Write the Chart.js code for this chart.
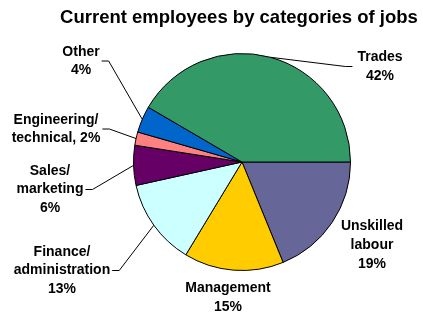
<!DOCTYPE html>
<html>
<head>
<meta charset="utf-8">
<script src="https://cdn.jsdelivr.net/npm/chart.js@4"></script>
<style>
  html, body { margin: 0; padding: 0; background: #fff; }
  #wrap { width: 423px; height: 315px; }
</style>
</head>
<body>
<div id="wrap"><canvas id="myChart" width="423" height="315"></canvas></div>
<script>
// slices go clockwise from 3 o'clock
var categories = ['Unskilled\nlabour', 'Management', 'Finance/\nadministration', 'Sales/\nmarketing', 'Engineering/\ntechnical', 'Other', 'Trades'];
var shares = [19, 15, 13, 6, 2, 4, 42];
var colours = ['#666699', '#FFCC00', '#CCFFFF', '#660066', '#FF8080', '#0066CC', '#339966'];
var chartTitle = 'Current employees by categories of jobs';

// where each label block sits (centre of the text) and whether it gets a leader line
var labelSpots = [
    { x: 372, y: 245, leader: false },
    { x: 228, y: 297.5, leader: false },
    { x: 62, y: 270.5, leader: true },
    { x: 50, y: 189.5, leader: true },
    { x: 56, y: 129, leader: true, inline: true },
    { x: 81, y: 61, leader: true },
    { x: 380, y: 66.5, leader: true }
];

const labelFont = 'bold 14px "Liberation Sans", Arial, sans-serif';
const lineH = 18.7;

const pieLabels = {
    id: 'pieLabels',
    afterDatasetsDraw(chart) {
        const ctx = chart.ctx;
        const arcs = chart.getDatasetMeta(0).data;
        ctx.save();

        // title
        ctx.font = 'bold 18.5px "Liberation Sans", Arial, sans-serif';
        ctx.fillStyle = '#000';
        ctx.textAlign = 'center';
        ctx.textBaseline = 'alphabetic';
        ctx.fillText(chartTitle, 239, 23);

        ctx.font = labelFont;
        ctx.textBaseline = 'middle';
        ctx.strokeStyle = '#000';
        ctx.lineWidth = 1;

        arcs.forEach((arc, i) => {
            const spot = labelSpots[i];
            let lines = categories[i].split('\n');
            if (spot.inline) lines[lines.length - 1] += ', ' + shares[i] + '%';
            else lines.push(shares[i] + '%');

            const top = spot.y - (lines.length - 1) * lineH / 2;
            let maxW = 0;
            lines.forEach((t, k) => {
                ctx.fillText(t, spot.x, top + k * lineH);
                maxW = Math.max(maxW, ctx.measureText(t).width);
            });

            if (spot.leader) {
                const mid = (arc.startAngle + arc.endAngle) / 2;
                const px = arc.x + Math.cos(mid) * arc.outerRadius;
                const py = arc.y + Math.sin(mid) * arc.outerRadius;
                let sx, ex;
                if (spot.x > arc.x) {
                    sx = spot.x - maxW / 2 - 5;
                    ex = sx - 7;
                } else {
                    sx = spot.x + maxW / 2 + 2;
                    ex = sx + 7;
                }
                ctx.beginPath();
                ctx.moveTo(sx, spot.y);
                ctx.lineTo(ex, spot.y);
                ctx.lineTo(px, py);
                ctx.stroke();
            }
        });
        ctx.restore();
    }
};

const ctx = document.getElementById('myChart').getContext('2d');
const myChart = new Chart(ctx, {
    type: 'pie',
    data: {
        labels: categories,
        datasets: [{
            data: shares,
            backgroundColor: colours,
            borderColor: '#000',
            borderWidth: 1
        }]
    },
    options: {
        responsive: false,
        animation: false,
        rotation: 90,
        layout: {
            padding: { top: 53, bottom: 44, left: 133, right: 72 }
        },
        plugins: {
            legend: { display: false },
            tooltip: { enabled: false },
            title: { display: false }
        }
    },
    plugins: [pieLabels]
});
</script>
</body>
</html>
